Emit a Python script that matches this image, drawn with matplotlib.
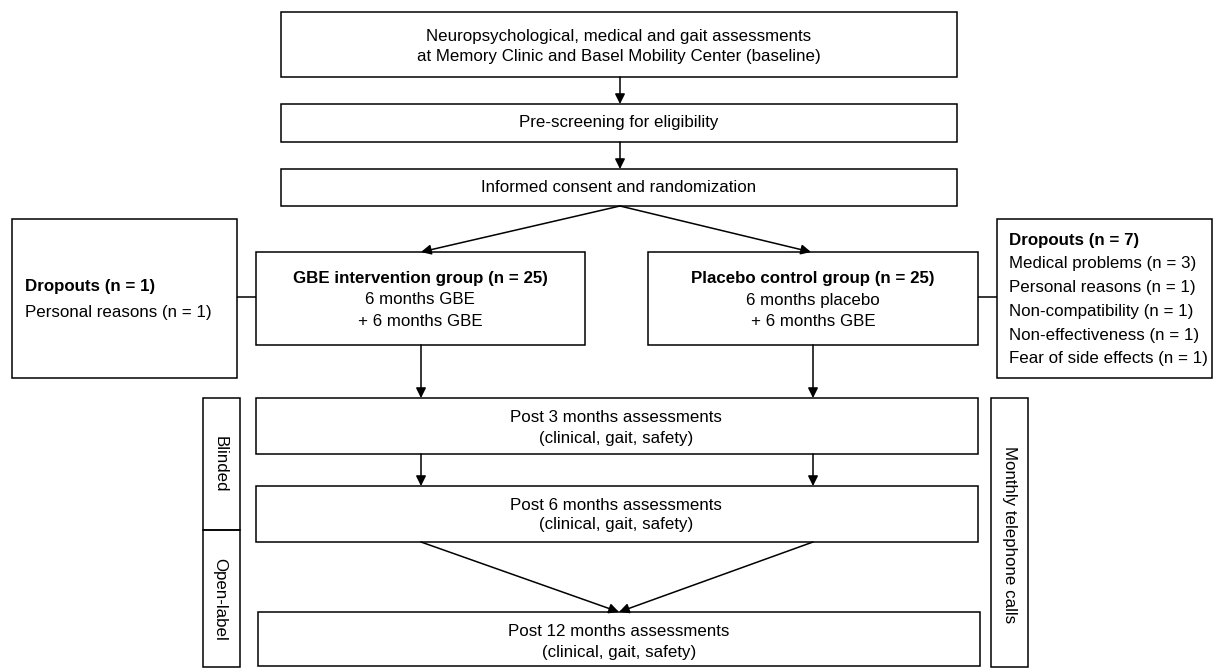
"""Study flow chart (GBE vs placebo) drawn in pixel coordinates."""
import matplotlib
matplotlib.use('Agg')
import matplotlib.pyplot as plt
from matplotlib.patches import Rectangle

plt.rcParams['font.family'] = ['Liberation Sans', 'DejaVu Sans']

# ---- texts
TOP_LINES = ['Neuropsychological, medical and gait assessments',
             'at Memory Clinic and Basel Mobility Center (baseline)']
PRESCREEN = 'Pre-screening for eligibility'
CONSENT = 'Informed consent and randomization'
GBE_LINES = ['GBE intervention group (n = 25)', '6 months GBE', '+ 6 months GBE']
PLACEBO_LINES = ['Placebo control group (n = 25)', '6 months placebo', '+ 6 months GBE']
DROP_LEFT = ['Dropouts (n = 1)', 'Personal reasons (n = 1)']
DROP_RIGHT = ['Dropouts (n = 7)', 'Medical problems (n = 3)', 'Personal reasons (n = 1)',
              'Non-compatibility (n = 1)', 'Non-effectiveness (n = 1)',
              'Fear of side effects (n = 1)']
POST_LINES = [['Post 3 months assessments', '(clinical, gait, safety)'],
              ['Post 6 months assessments', '(clinical, gait, safety)'],
              ['Post 12 months assessments', '(clinical, gait, safety)']]
SIDE_LABELS = ['Blinded', 'Open-label', 'Monthly telephone calls']

W, H = 1217, 668
FS = 12.2
LW = 1.1

fig = plt.figure(figsize=(W / 100, H / 100), dpi=100)
ax = fig.add_axes([0, 0, 1, 1])
ax.set_xlim(0, W)
ax.set_ylim(H, 0)
ax.axis('off')


def box(x0, y0, x1, y1):
    ax.add_patch(Rectangle((x0, y0), x1 - x0, y1 - y0, fill=False,
                           edgecolor='black', linewidth=LW))


def lines_center(cx, ys, texts, bold_first=False):
    for i, (y, t) in enumerate(zip(ys, texts)):
        ax.text(cx, y, t, ha='center', va='center', fontsize=FS,
                fontweight='bold' if (bold_first and i == 0) else 'normal')


def arrow(x0, y0, x1, y1):
    ax.annotate('', xy=(x1, y1), xytext=(x0, y0),
                arrowprops=dict(arrowstyle='-|>', color='black', lw=LW,
                                mutation_scale=15, shrinkA=0, shrinkB=0))


def line(x0, y0, x1, y1):
    ax.plot([x0, x1], [y0, y1], color='black', lw=LW, solid_capstyle='butt')


# top chain
box(281, 12, 957, 77)
lines_center(619, [36, 57], TOP_LINES)
arrow(620, 77, 620, 104)
box(281, 104, 957, 142)
lines_center(619, [123], [PRESCREEN])
arrow(620, 142, 620, 169)
box(281, 169, 957, 206)
lines_center(619, [188], [CONSENT])
arrow(620, 206, 421, 252)
arrow(620, 206, 811, 252)

# groups
box(256, 252, 585, 345)
lines_center(420, [279, 300, 321], GBE_LINES, bold_first=True)
box(648, 252, 978, 345)
lines_center(813, [279, 300, 321], PLACEBO_LINES, bold_first=True)

# dropouts
box(12, 219, 237, 378)
for i, (y, t) in enumerate(zip([287, 312], DROP_LEFT)):
    ax.text(25, y, t, ha='left', va='center', fontsize=FS,
            fontweight='bold' if i == 0 else 'normal')
line(237, 297, 256, 297)
box(997, 219, 1212, 378)
for i, t in enumerate(DROP_RIGHT):
    ax.text(1009, 240 + i * 23.8, t, ha='left', va='center', fontsize=FS,
            fontweight='bold' if i == 0 else 'normal')
line(978, 297, 997, 297)

# follow-up assessments
arrow(421, 345, 421, 398)
arrow(813, 345, 813, 398)
box(256, 398, 978, 454)
lines_center(616, [418, 438], POST_LINES[0])
arrow(421, 454, 421, 486)
arrow(813, 454, 813, 486)
box(256, 486, 978, 542)
lines_center(616, [505, 525], POST_LINES[1])
arrow(421, 542, 619, 612)
arrow(813, 542, 619, 612)
box(258, 612, 980, 666)
lines_center(619, [631, 652], POST_LINES[2])

# side labels
box(203, 398, 240, 530)
ax.text(220, 464, SIDE_LABELS[0], rotation=-90, ha='center', va='center', fontsize=FS)
box(203, 530, 240, 667)
ax.text(220, 599, SIDE_LABELS[1], rotation=-90, ha='center', va='center', fontsize=FS)
box(991, 398, 1028, 667)
ax.text(1010, 535, SIDE_LABELS[2], rotation=-90, ha='center', va='center', fontsize=FS)

fig.savefig('out.png', dpi=100)
